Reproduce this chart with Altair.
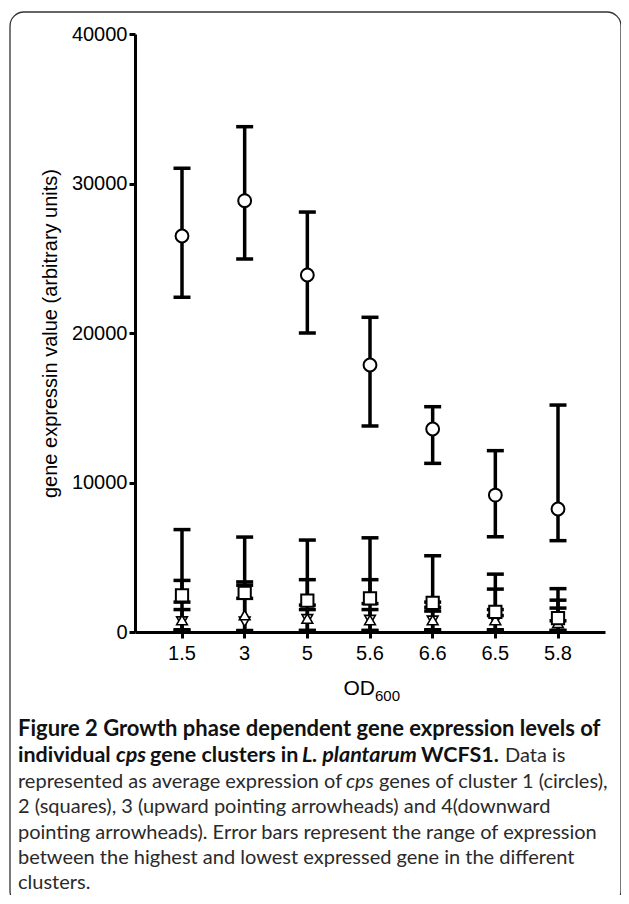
import altair as alt
import pandas as pd

# ---------------- data ----------------
od = ["1.5", "3", "5", "5.6", "6.6", "6.5", "5.8"]

# cluster 1 (circles)
c1_mean = [26490, 28850, 23880, 17860, 13580, 9160, 8230]
c1_low = [22390, 24950, 20000, 13780, 11280, 6370, 6110]
c1_high = [31020, 33800, 28090, 21050, 15070, 12130, 15180]

# cluster 2 (squares)
c2_mean = [2450, 2620, 2100, 2250, 1950, 1350, 930]
c2_low = [2000, 2250, 1800, 1900, 1650, 1100, 750]
c2_high = [6850, 6350, 6150, 6300, 5100, 3870, 2900]

# cluster 3 (upward arrowheads)
c3_mean = [800, 1130, 900, 800, 800, 800, 600]
c3_low = [150, 100, 100, 100, 150, 150, 100]
c3_high = [3450, 3350, 3500, 3500, 2000, 2870, 2130]

# cluster 4 (downward arrowheads)
c4_mean = [700, 690, 850, 800, 750, 750, 600]
c4_low = [100, 50, 100, 100, 100, 100, 100]
c4_high = [1500, 3130, 1500, 1500, 1400, 1500, 1600]

clusters = ["4", "3", "2", "1"]  # drawing order (1 on top)
shapes = {"1": "circle", "2": "square", "3": "triangle-up", "4": "triangle-down"}
sizes = {"1": 165, "2": 150, "3": 115, "4": 115}
series = {
    "1": (c1_mean, c1_low, c1_high),
    "2": (c2_mean, c2_low, c2_high),
    "3": (c3_mean, c3_low, c3_high),
    "4": (c4_mean, c4_low, c4_high),
}

rows = []
for c in clusters:
    m, lo, hi = series[c]
    for i, o in enumerate(od):
        rows.append({"od": o, "cluster": c, "mean": m[i], "low": lo[i], "high": hi[i]})
df = pd.DataFrame(rows)

y_title = "gene expressin value (arbitrary units)"

# (text, weight, style, x position on page, font size)
caption_lines = [
    [("Figure 2 Growth phase dependent gene expression levels of", "bold", "normal", 18, 22)],
    [("individual", "bold", "normal", 18, 21.5), ("cps", "bold", "italic", 116, 21.5),
     ("gene clusters in", "bold", "normal", 150, 21.5), ("L. plantarum", "bold", "italic", 302, 21.5),
     ("WCFS1.", "bold", "normal", 421, 21.5), ("Data is", "normal", "normal", 505, 20)],
    [("represented as average expression of", "normal", "normal", 18, 20),
     ("cps", "normal", "italic", 346, 20), ("genes of cluster 1 (circles),", "normal", "normal", 379, 20)],
    [("2 (squares), 3 (upward pointing arrowheads) and 4(downward", "normal", "normal", 18, 20)],
    [("pointing arrowheads). Error bars represent the range of expression", "normal", "normal", 18, 20)],
    [("between the highest and lowest expressed gene in the different", "normal", "normal", 18, 20)],
    [("clusters.", "normal", "normal", 18, 20)],
]
caption_baselines = [736, 762, 788, 813, 839, 864, 889]

# ---------------- layout ----------------
X0, Y0 = 135, 34   # page position of plot origin
W, H = 470, 598

x_enc = alt.X("od:N", sort=od, scale=alt.Scale(domain=od, padding=0.5),
              axis=alt.Axis(title=None, labelAngle=0, labelFontSize=20, labelFont="Liberation Sans",
                            labelColor="black", domainColor="black", domainWidth=3,
                            tickColor="black", tickWidth=3, tickSize=6, labelPadding=5,
                            grid=False))
y_scale = alt.Scale(domain=[0, 40000], nice=False, zero=True)
y_axis = alt.Axis(title=y_title, values=[0, 10000, 20000, 30000, 40000], format="d",
                  labelFontSize=20, labelFont="Liberation Sans", labelColor="black",
                  domainColor="black", domainWidth=3, tickColor="black", tickWidth=3,
                  tickSize=6, labelPadding=2, grid=False,
                  titleFont="Liberation Sans", titleFontSize=20, titleFontWeight="normal",
                  titleColor="black", titlePadding=11)

base = alt.Chart(df)

rules = base.mark_rule(color="black", strokeWidth=3.5).encode(
    x=x_enc, y=alt.Y("low:Q", scale=y_scale, axis=y_axis), y2="high:Q")
caps_hi = base.mark_tick(color="black", size=17, thickness=3.5, opacity=1).encode(
    x="od:N", y="high:Q")
caps_lo = base.mark_tick(color="black", size=17, thickness=3.5, opacity=1).encode(
    x="od:N", y="low:Q")

points = []
for c in clusters:
    sub = df[df["cluster"] == c]
    points.append(
        alt.Chart(sub).mark_point(shape=shapes[c], size=sizes[c], filled=True, fill="white",
                                  stroke="black", strokeWidth=2 if c in ("1", "2") else 1.6,
                                  opacity=1).encode(x="od:N", y="mean:Q")
    )

# x-axis title OD600
od_main = alt.Chart(pd.DataFrame({"t": ["OD"]})).mark_text(
    align="right", baseline="alphabetic", font="Liberation Sans", fontSize=21, color="black"
).encode(x=alt.value(375 - X0), y=alt.value(695 - Y0), text="t:N")
od_sub = alt.Chart(pd.DataFrame({"t": ["600"]})).mark_text(
    align="left", baseline="alphabetic", font="Liberation Sans", fontSize=15, color="black"
).encode(x=alt.value(375 - X0), y=alt.value(701 - Y0), text="t:N")

cap_layers = []
for li, segs in enumerate(caption_lines):
    for (txt, weight, style, px, fs) in segs:
        cap_layers.append(
            alt.Chart(pd.DataFrame({"t": [txt]})).mark_text(
                align="left", baseline="alphabetic", font="Lato", fontSize=fs,
                fontWeight=weight, fontStyle=style,
                color="#111111" if weight == "bold" else "#2a2a2a"
            ).encode(x=alt.value(px - X0), y=alt.value(caption_baselines[li] - Y0), text="t:N")
        )

border = alt.Chart(pd.DataFrame({"a": [0]})).mark_rect(
    fillOpacity=0, stroke="#333333", strokeWidth=1.3, cornerRadius=14
).encode(x=alt.value(10 - X0), x2=alt.value(621 - X0), y=alt.value(12 - Y0), y2=alt.value(905 - Y0))

chart = alt.layer(border, rules, caps_hi, caps_lo, *points, od_main, od_sub, *cap_layers).properties(
    width=W, height=H,
    padding={"left": X0 - 8, "top": Y0 - 8, "right": 613 - (X0 - 8) - W, "bottom": 887 - (Y0 - 8) - H},
    autosize=alt.AutoSizeParams(type="none"),
).configure_view(stroke=None)

chart.save("out.html", embed_options={"renderer": "svg", "actions": False})
